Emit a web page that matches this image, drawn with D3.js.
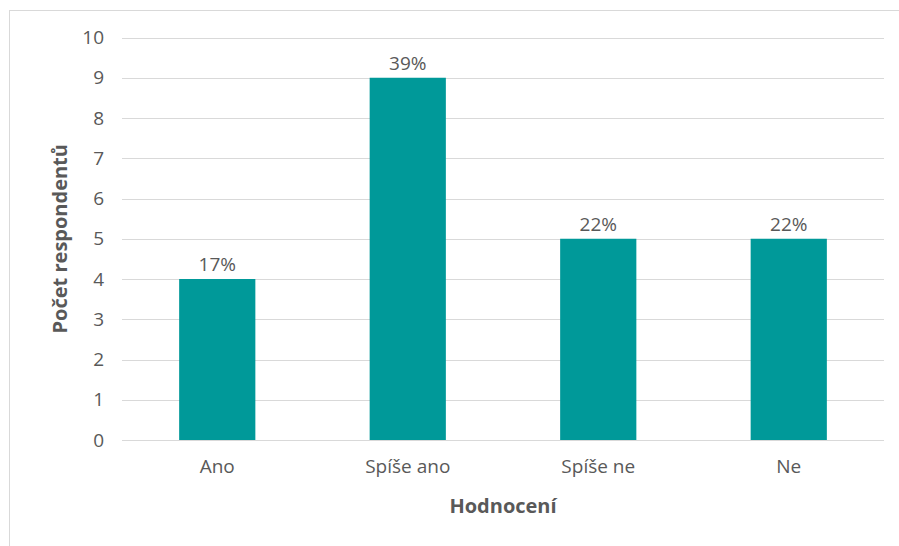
<!DOCTYPE html>
<html>
<head>
<meta charset="utf-8">
<script src="https://cdn.jsdelivr.net/npm/d3@7"></script>
<style>
  html, body { margin: 0; padding: 0; background: #fff; }
  svg { display: block; }
  text { font-family: "Open Sans", "Liberation Sans", sans-serif; fill: #595959; }
</style>
</head>
<body>
<svg id="chart" width="899" height="546"></svg>
<script>
// Survey answers and respondent counts
const categories = ["Ano", "Spíše ano", "Spíše ne", "Ne"];
const counts = [4, 9, 5, 5];
const shares = ["17%", "39%", "22%", "22%"];
const yTicks = [0, 1, 2, 3, 4, 5, 6, 7, 8, 9, 10];

const svg = d3.select("#chart");
const W = 899, H = 546;
const plot = { left: 122, right: 884, top: 37.5, bottom: 440 };

// outer frame
svg.append("rect")
  .attr("x", 9.5).attr("y", 10.5)
  .attr("width", W + 20).attr("height", H + 20)
  .attr("fill", "none").attr("stroke", "#d9d9d9").attr("stroke-width", 1);

const x = d3.scaleBand()
  .domain(categories)
  .range([plot.left, plot.right])
  .paddingInner(0.6).paddingOuter(0.3);

const y = d3.scaleLinear().domain([0, 10]).range([plot.bottom, plot.top]);

// horizontal gridlines
svg.append("g")
  .selectAll("line")
  .data(yTicks)
  .join("line")
  .attr("x1", plot.left).attr("x2", plot.right)
  .attr("y1", d => Math.round(y(d)) + 0.5).attr("y2", d => Math.round(y(d)) + 0.5)
  .attr("stroke", "#d9d9d9").attr("stroke-width", 1);

// y axis tick labels
const yAxis = d3.axisLeft(y).tickValues(yTicks).tickSize(0).tickPadding(0);
const gy = svg.append("g").attr("transform", `translate(${plot.left - 18},0)`).call(yAxis);
gy.select(".domain").remove();
gy.selectAll("text")
  .style("font-family", '"Open Sans", sans-serif')
  .style("font-size", "19px")
  .attr("fill", "#595959");

// bars
svg.append("g")
  .selectAll("rect")
  .data(categories)
  .join("rect")
  .attr("x", d => x(d))
  .attr("width", x.bandwidth())
  .attr("y", (d, i) => y(counts[i]))
  .attr("height", (d, i) => y(0) - y(counts[i]))
  .attr("fill", "#009999");

// value labels
svg.append("g")
  .selectAll("text")
  .data(categories)
  .join("text")
  .attr("x", d => x(d) + x.bandwidth() / 2)
  .attr("y", (d, i) => y(counts[i]) - 8)
  .attr("text-anchor", "middle")
  .style("font-size", "19px")
  .attr("fill", "#404040")
  .text((d, i) => shares[i]);

// x axis category labels
const xAxis = d3.axisBottom(x).tickSize(0).tickPadding(0);
const gx = svg.append("g").attr("transform", `translate(0,${plot.bottom + 19})`).call(xAxis);
gx.select(".domain").remove();
gx.selectAll("text")
  .style("font-family", '"Open Sans", sans-serif')
  .style("font-size", "19px")
  .attr("fill", "#595959");

// axis titles
svg.append("text")
  .attr("x", (plot.left + plot.right) / 2)
  .attr("y", 513)
  .attr("text-anchor", "middle")
  .style("font-size", "20px")
  .style("font-weight", "bold")
  .text("Hodnocení");

svg.append("text")
  .attr("transform", `translate(67,${(plot.top + plot.bottom) / 2}) rotate(-90)`)
  .attr("text-anchor", "middle")
  .style("font-size", "20px")
  .style("font-weight", "bold")
  .text("Počet respondentů");
</script>
</body>
</html>
